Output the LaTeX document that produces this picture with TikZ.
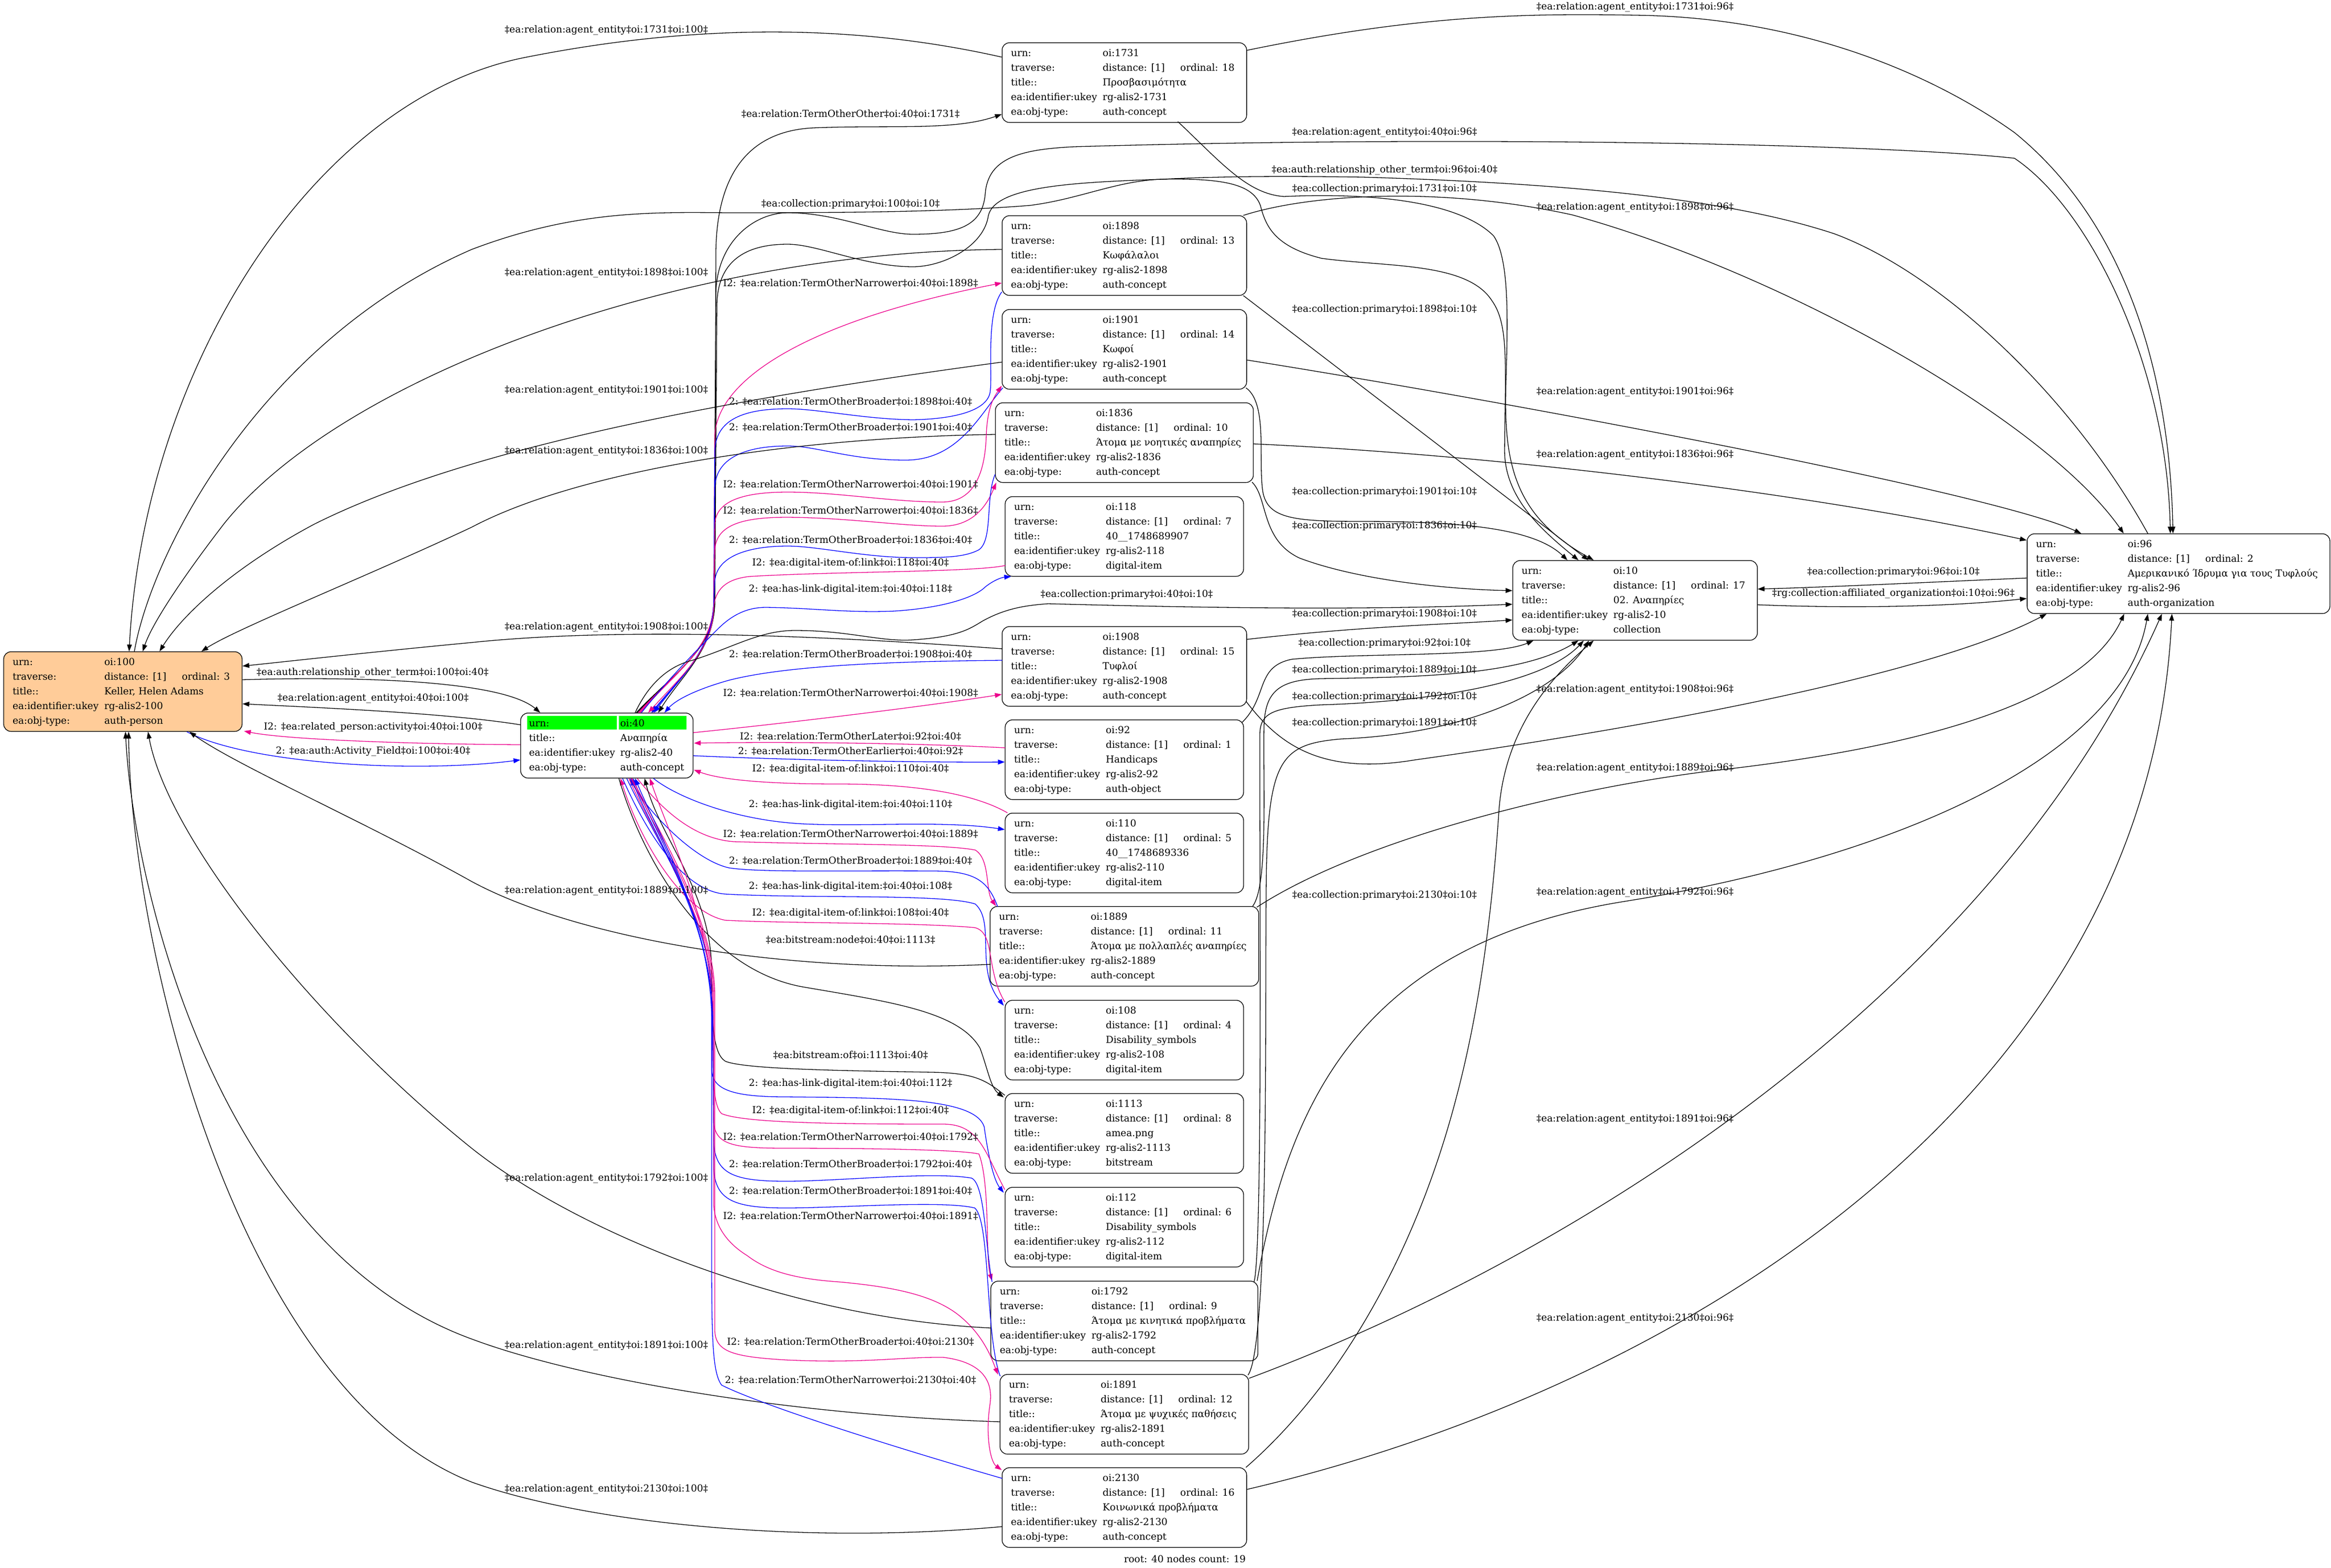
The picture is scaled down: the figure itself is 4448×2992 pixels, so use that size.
\documentclass[tikz,border=0pt]{standalone}
\usepackage{fontspec}
\setmainfont{DejaVu Serif}
\usetikzlibrary{arrows.meta}
\definecolor{peach}{HTML}{FFCC99}
\definecolor{cellgreen}{HTML}{00FF00}
\newcommand{\lblfont}{\fontsize{9.2pt}{14pt}\selectfont}
\newcommand{\spanv}[1]{\multicolumn{2}{@{}l@{\hspace{11.5pt}}}{#1}}
\newcommand{\recbody}[5]{%
\begin{tabular}{@{\hspace{8.5pt}}p{87.5pt}@{}p{74pt}@{}l@{\hspace{11.5pt}}}
urn: & \spanv{#1}\\
traverse: & distance: [1] & ordinal: #2\hspace{3pt}\\
title:: & \spanv{#3}\\
ea:identifier:ukey & \spanv{#4}\\
ea:obj-type: & \spanv{#5}
\end{tabular}}
\tikzset{
  rec/.style={draw, line width=0.65pt, rounded corners=7pt, inner xsep=0pt, inner ysep=3pt, anchor=north, font=\lblfont},
  lab/.style={font=\lblfont, inner sep=0pt},
  edge/.style={line width=0.65pt, -{Triangle[length=6.5pt,width=4.6pt]}},
  eb/.style={edge, draw=black},
  eu/.style={edge, draw=blue},
  em/.style={edge, draw=magenta}
}
\begin{document}
\begin{tikzpicture}[x=0.5pt,y=-0.5pt,line join=round]
\useasboundingbox (0,0) rectangle (4448,2992);
% ---------- nodes ----------
\node[rec, fill=peach] (n100) at (234.5,1243) {\recbody{oi:100}{3}{Keller, Helen Adams}{rg-alis2-100}{auth-person}};
\fill[cellgreen] (1006,1366) rectangle (1177,1392);
\fill[cellgreen] (1181,1366) rectangle (1310,1392);
\node[rec] (n40) at (1158,1360) {\begin{tabular}{@{\hspace{8pt}}p{87pt}@{}l@{\hspace{8.5pt}}}
urn: & oi:40\\
title:: & Αναπηρία\\
ea:identifier:ukey & rg-alis2-40\\
ea:obj-type: & auth-concept
\end{tabular}};
\node[rec] (n1731) at (2145.5,81) {\recbody{oi:1731}{18}{Προσβασιμότητα}{rg-alis2-1731}{auth-concept}};
\node[rec] (n1898) at (2145.5,411) {\recbody{oi:1898}{13}{Κωφάλαλοι}{rg-alis2-1898}{auth-concept}};
\node[rec] (n1901) at (2145.5,590) {\recbody{oi:1901}{14}{Κωφοί}{rg-alis2-1901}{auth-concept}};
\node[rec] (n1836) at (2145.5,768) {\recbody{oi:1836}{10}{Άτομα με νοητικές αναπηρίες}{rg-alis2-1836}{auth-concept}};
\node[rec] (n118) at (2145.5,947) {\recbody{oi:118}{7}{40\_\_1748689907}{rg-alis2-118}{digital-item}};
\node[rec] (n1908) at (2145.5,1195) {\recbody{oi:1908}{15}{Τυφλοί}{rg-alis2-1908}{auth-concept}};
\node[rec] (n92) at (2145.5,1373) {\recbody{oi:92}{1}{Handicaps}{rg-alis2-92}{auth-object}};
\node[rec] (n110) at (2145.5,1551) {\recbody{oi:110}{5}{40\_\_1748689336}{rg-alis2-110}{digital-item}};
\node[rec] (n1889) at (2145.5,1729) {\recbody{oi:1889}{11}{Άτομα με πολλαπλές αναπηρίες}{rg-alis2-1889}{auth-concept}};
\node[rec] (n108) at (2145.5,1908) {\recbody{oi:108}{4}{Disability\_symbols}{rg-alis2-108}{digital-item}};
\node[rec] (n1113) at (2145.5,2086) {\recbody{oi:1113}{8}{amea.png}{rg-alis2-1113}{bitstream}};
\node[rec] (n112) at (2145.5,2265) {\recbody{oi:112}{6}{Disability\_symbols}{rg-alis2-112}{digital-item}};
\node[rec] (n1792) at (2145.5,2444) {\recbody{oi:1792}{9}{Άτομα με κινητικά προβλήματα}{rg-alis2-1792}{auth-concept}};
\node[rec] (n1891) at (2145.5,2622) {\recbody{oi:1891}{12}{Άτομα με ψυχικές παθήσεις}{rg-alis2-1891}{auth-concept}};
\node[rec] (n2130) at (2145.5,2800) {\recbody{oi:2130}{16}{Κοινωνικά προβλήματα}{rg-alis2-2130}{auth-concept}};
\node[rec] (n10) at (3120,1069) {\recbody{oi:10}{17}{02. Αναπηρίες}{rg-alis2-10}{collection}};
\node[rec] (n96) at (4157,1018) {\recbody{oi:96}{2}{Αμερικανικό Ίδρυμα για τους Τυφλούς}{rg-alis2-96}{auth-organization}};
\node[lab] (foot) at (2261,2975) {root: 40 nodes count: 19};
% ---------- edges ----------
\draw[eb] ([shift={(0,28)}]n1731.north west) .. controls (1650,50) and (1350,40) .. (1000,110) .. controls (600,190) and (275,700) .. ([shift={(240,0)}]n100.north west);
\draw[eb] ([shift={(0,15)}]n1731.north east) .. controls (2700,30) and (2900,25) .. (3120,29) .. controls (3450,33) and (3700,150) .. (3844,253) .. controls (4050,420) and (4140,700) .. ([shift={(279,0)}]n96.north west);
\draw[eb] ([shift={(221,0)}]n40.north west) .. controls (1290,1280) and (1362,1240) .. (1364,1150) -- (1366,480) .. controls (1368,330) and (1430,250) .. (1552,244) .. controls (1700,238) and (1820,250) .. ([shift={(0,137)}]n1731.north west);
\draw[eb] ([shift={(336,151)}]n1731.north west) .. controls (2330,310) and (2380,370) .. (2450,375) .. controls (2600,368) and (2780,380) .. (2850,450) .. controls (2885,500) and (2875,650) .. (2873,760) .. controls (2872,900) and (2900,990) .. ([shift={(155,0)}]n10.north west);
\draw[eb] ([shift={(250,0)}]n100.north west) .. controls (290,1050) and (500,650) .. (900,476) .. controls (1100,400) and (1250,405) .. (1391,406) .. controls (1600,406) and (1800,405) .. (1965,392) .. controls (2060,380) and (2130,345) .. (2217,342) .. controls (2330,340) and (2390,350) .. (2405,392) .. controls (2415,430) and (2430,470) .. (2522,493) .. controls (2650,510) and (2800,500) .. (2847,574) .. controls (2880,620) and (2872,700) .. (2871,861) .. controls (2872,950) and (2940,1010) .. ([shift={(126,0)}]n10.north west);
\draw[eb] ([shift={(223,0)}]n40.north west) .. controls (1290,1280) and (1360,1240) .. (1362,1150) -- (1366,560) .. controls (1368,460) and (1440,406) .. (1503,406) .. controls (1600,406) and (1680,447) .. (1742,447) .. controls (1830,447) and (1875,430) .. (1880,370) .. controls (1885,300) and (1950,285) .. (2050,280) .. controls (2800,258) and (3600,275) .. (3844,302) .. controls (3990,400) and (4135,700) .. ([shift={(274,0)}]n96.north west);
\draw[eb] ([shift={(231,0)}]n96.north west) .. controls (3950,750) and (3700,520) .. (3500,446) .. controls (3300,380) and (3000,350) .. (2600,338) .. controls (2400,335) and (2300,338) .. (2217,342) .. controls (2050,348) and (1900,355) .. (1886,411) .. controls (1878,470) and (1800,509) .. (1742,509) .. controls (1650,509) and (1560,466) .. (1503,466) .. controls (1420,466) and (1370,500) .. (1368,580) -- (1364,1150) .. controls (1362,1240) and (1300,1290) .. ([shift={(263,0)}]n40.north west);
\draw[eb] ([shift={(0,65)}]n1898.north west) .. controls (1300,480) and (650,720) .. (427,1000) .. controls (350,1100) and (290,1190) .. ([shift={(266,0)}]n100.north west);
\draw[eb] ([shift={(-7,0)}]n1898.north east) .. controls (2500,370) and (2750,355) .. (3000,410) .. controls (3400,520) and (3900,800) .. ([shift={(185,0)}]n96.north west);
\draw[em] ([shift={(225,0)}]n40.north west) .. controls (1290,1280) and (1360,1240) .. (1362,1150) -- (1364,830) .. controls (1370,720) and (1550,610) .. ([shift={(0,129)}]n1898.north west);
\draw[eb] ([shift={(-7,153)}]n1898.north east) .. controls (2550,700) and (2850,930) .. ([shift={(145,0)}]n10.north west);
\draw[eb] ([shift={(0,101)}]n1901.north west) .. controls (1400,760) and (900,850) .. (600,1000) .. controls (450,1080) and (350,1170) .. ([shift={(298,0)}]n100.north west);
\draw[eu] ([shift={(0,146)}]n1898.north west) .. controls (1880,600) and (1895,720) .. (1889,750) .. controls (1880,790) and (1800,800) .. (1742,801) .. controls (1650,800) and (1560,780) .. (1503,780) .. controls (1420,780) and (1366,800) .. (1364,860) -- (1362,1150) .. controls (1360,1240) and (1300,1290) .. ([shift={(255,0)}]n40.north west);
\draw[eu] ([shift={(2,150)}]n1901.north west) .. controls (1870,790) and (1830,878) .. (1728,878) .. controls (1620,878) and (1560,851) .. (1503,851) .. controls (1420,851) and (1366,875) .. (1364,930) -- (1362,1150) .. controls (1360,1240) and (1300,1290) .. ([shift={(252,0)}]n40.north west);
\draw[eb] ([shift={(0,97)}]n1901.north east) .. controls (2900,770) and (3800,940) .. ([shift={(104,0)}]n96.north west);
\draw[eb] ([shift={(0,61)}]n1836.north west) .. controls (1500,835) and (1100,900) .. (900,1006) .. controls (700,1100) and (450,1200) .. ([shift={(378,0)}]n100.north west);
\draw[eb] ([shift={(0,79)}]n1836.north east) .. controls (2900,870) and (3500,950) .. ([shift={(0,13)}]n96.north west);
\draw[em] ([shift={(227,0)}]n40.north west) .. controls (1290,1280) and (1360,1240) .. (1362,1150) -- (1364,1000) .. controls (1366,955) and (1420,939) .. (1503,939) .. controls (1600,939) and (1700,958) .. (1798,958) .. controls (1860,958) and (1880,900) .. (1882,830) .. controls (1884,780) and (1895,760) .. ([shift={(0,146)}]n1901.north west);
\draw[eb] ([shift={(-2,150)}]n1901.north east) .. controls (2420,770) and (2400,880) .. (2410,940) .. controls (2420,990) and (2470,995) .. (2600,995) .. controls (2800,995) and (2930,1010) .. ([shift={(105,0)}]n10.north west);
\draw[em] ([shift={(229,0)}]n40.north west) .. controls (1290,1280) and (1360,1240) .. (1362,1150) -- (1364,1050) .. controls (1366,1000) and (1420,987) .. (1503,987) .. controls (1620,988) and (1720,1004) .. (1798,1004) .. controls (1860,1004) and (1885,960) .. ([shift={(2,153)}]n1836.north west);
\draw[eb] ([shift={(-3,152)}]n1836.north east) .. controls (2420,950) and (2405,1030) .. (2480,1065) .. controls (2600,1110) and (2780,1125) .. ([shift={(0,58)}]n10.north west);
\draw[eu] ([shift={(0,137)}]n1836.north west) .. controls (1880,950) and (1895,1030) .. (1868,1049) .. controls (1840,1064) and (1800,1064) .. (1742,1064) .. controls (1650,1064) and (1560,1042) .. (1503,1042) .. controls (1420,1042) and (1366,1065) .. (1364,1110) -- (1362,1150) .. controls (1360,1240) and (1300,1290) .. ([shift={(250,0)}]n40.north west);
\draw[em] ([shift={(1,132)}]n118.north west) .. controls (1860,1092) and (1600,1090) .. (1430,1100) .. controls (1385,1105) and (1364,1125) .. (1362,1160) .. controls (1360,1240) and (1300,1290) .. ([shift={(244,0)}]n40.north west);
\draw[eu] ([shift={(231,0)}]n40.north west) .. controls (1280,1290) and (1340,1230) .. (1370,1200) .. controls (1400,1170) and (1430,1159) .. (1461,1159) .. controls (1550,1160) and (1620,1170) .. (1707,1166) .. controls (1800,1160) and (1860,1140) .. (1880,1120) .. controls (1895,1108) and (1910,1102) .. ([shift={(12,153)}]n118.north west);
\draw[eb] ([shift={(0,85)}]n96.north west) .. controls (3700,1110) and (3500,1120) .. ([shift={(0,55)}]n10.north east);
\draw[eb] ([shift={(0,85)}]n10.north east) .. controls (3500,1160) and (3700,1160) .. ([shift={(0,124)}]n96.north west);
\draw[eb] ([shift={(219,0)}]n40.north west) .. controls (1240,1300) and (1280,1270) .. (1321,1260) .. controls (1400,1235) and (1450,1203) .. (1517,1203) .. controls (1620,1203) and (1680,1225) .. (1742,1221) .. controls (1830,1215) and (1850,1200) .. (1875,1185) .. controls (1920,1160) and (1960,1155) .. (2000,1152) .. controls (2300,1160) and (2600,1165) .. ([shift={(0,84)}]n10.north west);
\draw[eb] ([shift={(1,43)}]n1908.north west) .. controls (1600,1215) and (1200,1195) .. (900,1226) .. controls (700,1245) and (550,1262) .. ([shift={(0,28)}]n100.north east);
\draw[eb] ([shift={(0,25)}]n1908.north east) .. controls (2600,1195) and (2750,1192) .. ([shift={(0,114)}]n10.north west);
\draw[eu] ([shift={(1,65)}]n1908.north west) .. controls (1700,1262) and (1500,1270) .. (1391,1298) .. controls (1330,1315) and (1290,1335) .. ([shift={(275,0)}]n40.north west);
\draw[eb] ([shift={(-4,6)}]n92.north east) .. controls (2420,1330) and (2395,1272) .. (2465,1258) .. controls (2600,1245) and (2850,1255) .. ([shift={(40,0)}]n10.south west);
\draw[eb] ([shift={(0,54)}]n100.north east) .. controls (700,1290) and (960,1300) .. ([shift={(38,0)}]n40.north west);
\draw[em] ([shift={(0,38)}]n40.north east) .. controls (1500,1380) and (1750,1350) .. ([shift={(0,130)}]n1908.north west);
\draw[eb] ([shift={(-12,0)}]n1889.north east) .. controls (2420,1690) and (2410,1500) .. (2412,1385) .. controls (2414,1320) and (2440,1297) .. (2520,1295) .. controls (2700,1292) and (2900,1290) .. ([shift={(126,0)}]n10.south west);
\draw[eb] ([shift={(-8,2)}]n1792.north east) .. controls (2410,2390) and (2403,1600) .. (2404,1400) .. controls (2405,1360) and (2430,1350) .. (2520,1345) .. controls (2750,1338) and (2950,1300) .. ([shift={(136,0)}]n10.south west);
\draw[eb] ([shift={(0,23)}]n40.north west) .. controls (850,1360) and (600,1350) .. ([shift={(0,100)}]n100.north east);
\draw[eb] ([shift={(-2,2)}]n1891.north east) .. controls (2420,2570) and (2414,2000) .. (2416,1700) .. controls (2418,1450) and (2440,1420) .. (2560,1410) .. controls (2800,1400) and (2970,1320) .. ([shift={(146,0)}]n10.south west);
\draw[em] ([shift={(1,54)}]n92.north west) .. controls (1750,1418) and (1500,1415) .. ([shift={(1,58)}]n40.north east);
\draw[em] ([shift={(0,61)}]n40.north west) .. controls (800,1420) and (550,1412) .. ([shift={(3,152)}]n100.north east);
\draw[eu] ([shift={(0,82)}]n40.north east) .. controls (1500,1450) and (1750,1455) .. ([shift={(0,81)}]n92.north west);
\draw[eu] ([shift={(350,0)}]n100.south west) .. controls (480,1460) and (800,1475) .. ([shift={(0,90)}]n40.north west);
\draw[eb] ([shift={(-2,143)}]n1908.north east) .. controls (2440,1420) and (2520,1480) .. (2700,1450) .. controls (3200,1380) and (3700,1280) .. ([shift={(38,0)}]n96.south west);
\draw[em] ([shift={(5,0)}]n110.north west) .. controls (1860,1515) and (1750,1496) .. (1601,1496) .. controls (1480,1496) and (1380,1490) .. ([shift={(1,109)}]n40.north east);
\draw[eb] ([shift={(-4,2)}]n1889.north east) .. controls (2600,1600) and (3000,1500) .. (3300,1467) .. controls (3700,1420) and (3980,1330) .. ([shift={(186,0)}]n96.south west);
\draw[eu] ([shift={(254,0)}]n40.south west) .. controls (1290,1520) and (1400,1565) .. (1531,1572) .. controls (1650,1578) and (1800,1565) .. ([shift={(0,32)}]n110.north west);
\draw[em] ([shift={(223,0)}]n40.south west) .. controls (1260,1540) and (1320,1600) .. (1400,1606) .. controls (1600,1612) and (1800,1610) .. (1861,1622) .. controls (1890,1640) and (1880,1700) .. ([shift={(12,0)}]n1889.north west);
\draw[eb] ([shift={(-2,0)}]n2130.north east) .. controls (2550,2650) and (2700,2400) .. (2780,2090) .. controls (2830,1900) and (2850,1700) .. (2860,1550) .. controls (2870,1400) and (2950,1300) .. ([shift={(155,0)}]n10.south west);
\draw[eu] ([shift={(15,1)}]n1889.north west) .. controls (1885,1680) and (1860,1662) .. (1780,1662) .. controls (1600,1661) and (1450,1665) .. (1391,1656) .. controls (1320,1640) and (1230,1540) .. ([shift={(209,0)}]n40.south west);
\draw[eb] ([shift={(-2,0)}]n1792.north east) .. controls (2460,2100) and (2600,1800) .. (3100,1720) .. controls (3600,1640) and (4050,1450) .. ([shift={(231,0)}]n96.south west);
\draw[eu] ([shift={(195,0)}]n40.south west) .. controls (1230,1580) and (1300,1700) .. (1384,1706) .. controls (1550,1715) and (1800,1705) .. (1861,1725) .. controls (1900,1760) and (1860,1850) .. ([shift={(-2,11)}]n108.north west);
\draw[eb] ([shift={(2,111)}]n1889.north west) .. controls (1500,1860) and (1100,1790) .. (900,1682) .. controls (700,1570) and (450,1460) .. ([shift={(355,0)}]n100.south west);
\draw[em] ([shift={(0,4)}]n108.north west) .. controls (1880,1850) and (1900,1780) .. (1860,1770) .. controls (1750,1760) and (1500,1762) .. (1384,1756) .. controls (1300,1740) and (1220,1600) .. ([shift={(191,0)}]n40.south west);
\draw[eb] ([shift={(188,0)}]n40.south west) .. controls (1230,1650) and (1350,1850) .. (1531,1883) .. controls (1700,1912) and (1830,1930) .. (1870,2000) .. controls (1885,2040) and (1890,2075) .. ([shift={(-2,8)}]n1113.north west);
\draw[eb] ([shift={(0,4)}]n1113.north west) .. controls (1880,2060) and (1860,2048) .. (1780,2046) .. controls (1600,2043) and (1420,2040) .. (1384,2025) .. controls (1360,2010) and (1358,1950) .. (1358,1850) .. controls (1356,1700) and (1260,1600) .. ([shift={(237,0)}]n40.south west);
\draw[eu] ([shift={(203,0)}]n40.south west) .. controls (1250,1600) and (1358,1760) .. (1358,1900) -- (1358,2040) .. controls (1358,2080) and (1400,2093) .. (1500,2093) .. controls (1700,2095) and (1860,2095) .. (1878,2150) .. controls (1885,2200) and (1895,2250) .. ([shift={(-2,11)}]n112.north west);
\draw[em] ([shift={(0,5)}]n112.north west) .. controls (1880,2200) and (1870,2145) .. (1800,2145) .. controls (1600,2145) and (1420,2143) .. (1377,2125) .. controls (1360,2110) and (1360,2050) .. (1360,1950) .. controls (1360,1760) and (1280,1600) .. ([shift={(247,0)}]n40.south west);
\draw[em] ([shift={(207,0)}]n40.south west) .. controls (1250,1600) and (1360,1760) .. (1360,1900) -- (1362,2140) .. controls (1364,2185) and (1400,2191) .. (1500,2191) .. controls (1700,2191) and (1840,2195) .. (1868,2202) .. controls (1890,2260) and (1880,2400) .. ([shift={(3,0)}]n1792.north west);
\draw[eu] ([shift={(3,2)}]n1792.north west) .. controls (1880,2380) and (1880,2260) .. (1854,2248) .. controls (1780,2235) and (1600,2254) .. (1500,2254) .. controls (1400,2254) and (1365,2240) .. (1362,2180) -- (1360,1950) .. controls (1360,1760) and (1250,1600) .. ([shift={(212,0)}]n40.south west);
\draw[eu] ([shift={(1,4)}]n1891.north west) .. controls (1880,2550) and (1890,2330) .. (1860,2305) .. controls (1800,2290) and (1600,2305) .. (1500,2305) .. controls (1400,2305) and (1365,2290) .. (1362,2230) -- (1360,1950) .. controls (1360,1760) and (1255,1600) .. ([shift={(215,0)}]n40.south west);
\draw[em] ([shift={(211,0)}]n40.south west) .. controls (1260,1600) and (1362,1760) .. (1362,1900) -- (1362,2300) .. controls (1365,2350) and (1400,2380) .. (1426,2396) .. controls (1470,2430) and (1530,2441) .. (1600,2446) .. controls (1700,2455) and (1780,2470) .. (1830,2510) .. controls (1880,2550) and (1895,2600) .. ([shift={(-3,1)}]n1891.north west);
\draw[eb] ([shift={(0,90)}]n1792.north west) .. controls (1500,2515) and (1100,2350) .. (900,2191) .. controls (600,1950) and (320,1600) .. ([shift={(276,0)}]n100.south west);
\draw[eb] ([shift={(0,8)}]n1891.north east) .. controls (3000,2400) and (3800,1900) .. ([shift={(258,0)}]n96.south west);
\draw[eb] ([shift={(1,91)}]n1891.north west) .. controls (1500,2700) and (1100,2630) .. (900,2555) .. controls (420,2380) and (255,1700) .. ([shift={(233,0)}]n100.south west);
\draw[em] ([shift={(213,0)}]n40.south west) .. controls (1265,1600) and (1364,1760) .. (1364,1900) -- (1364,2540) .. controls (1366,2580) and (1400,2589) .. (1500,2595) .. controls (1650,2602) and (1720,2589) .. (1800,2590) .. controls (1880,2600) and (1895,2640) .. (1889,2680) .. controls (1880,2740) and (1890,2790) .. ([shift={(0,5)}]n2130.north west);
\draw[eu] ([shift={(1,21)}]n2130.north west) .. controls (1700,2760) and (1450,2680) .. (1377,2643) .. controls (1360,2620) and (1358,2560) .. (1358,2400) -- (1358,1950) .. controls (1358,1760) and (1260,1600) .. ([shift={(219,0)}]n40.south west);
\draw[eb] ([shift={(1,113)}]n2130.north west) .. controls (1500,2950) and (1100,2900) .. (900,2828) .. controls (450,2650) and (250,1800) .. ([shift={(239,0)}]n100.south west);
\draw[eb] ([shift={(0,42)}]n2130.north east) .. controls (3200,2650) and (4100,2100) .. ([shift={(277,0)}]n96.south west);
% ---------- labels ----------
\node[lab] (l1) at (1157,58) {‡ea:relation:agent\_entity‡oi:1731‡oi:100‡};
\node[lab] (l2) at (3120,14) {‡ea:relation:agent\_entity‡oi:1731‡oi:96‡};
\node[lab] (l3) at (1623,217) {‡ea:relation:TermOtherOther‡oi:40‡oi:1731‡};
\node[lab] (l4) at (2642,361) {‡ea:collection:primary‡oi:1731‡oi:10‡};
\node[lab] (l5) at (2642,253) {‡ea:relation:agent\_entity‡oi:40‡oi:96‡};
\node[lab] (l6) at (2642,325) {‡ea:auth:relationship\_other\_term‡oi:96‡oi:40‡};
\node[lab] (l7) at (1623,390) {‡ea:collection:primary‡oi:100‡oi:10‡};
\node[lab] (l8) at (1157,521) {‡ea:relation:agent\_entity‡oi:1898‡oi:100‡};
\node[lab] (l9) at (3120,396) {‡ea:relation:agent\_entity‡oi:1898‡oi:96‡};
\node[lab] (l10) at (1623,540) {I2: ‡ea:relation:TermOtherNarrower‡oi:40‡oi:1898‡};
\node[lab] (l11) at (2642,591) {‡ea:collection:primary‡oi:1898‡oi:10‡};
\node[lab] (l12) at (1157,745) {‡ea:relation:agent\_entity‡oi:1901‡oi:100‡};
\node[lab] (l13) at (1623,766) {2: ‡ea:relation:TermOtherBroader‡oi:1898‡oi:40‡};
\node[lab] (l14) at (1623,815) {2: ‡ea:relation:TermOtherBroader‡oi:1901‡oi:40‡};
\node[lab] (l15) at (3120,748) {‡ea:relation:agent\_entity‡oi:1901‡oi:96‡};
\node[lab] (l16) at (1157,861) {‡ea:relation:agent\_entity‡oi:1836‡oi:100‡};
\node[lab] (l17) at (3120,868) {‡ea:relation:agent\_entity‡oi:1836‡oi:96‡};
\node[lab] (l18) at (1623,924) {I2: ‡ea:relation:TermOtherNarrower‡oi:40‡oi:1901‡};
\node[lab] (l19) at (2642,939) {‡ea:collection:primary‡oi:1901‡oi:10‡};
\node[lab] (l20) at (1623,974) {I2: ‡ea:relation:TermOtherNarrower‡oi:40‡oi:1836‡};
\node[lab] (l21) at (2642,1004) {‡ea:collection:primary‡oi:1836‡oi:10‡};
\node[lab] (l22) at (1623,1030) {2: ‡ea:relation:TermOtherBroader‡oi:1836‡oi:40‡};
\node[lab] (l23) at (1623,1075) {I2: ‡ea:digital-item-of:link‡oi:118‡oi:40‡};
\node[lab] (l24) at (1623,1125) {2: ‡ea:has-link-digital-item:‡oi:40‡oi:118‡};
\node[lab] (l25) at (3613,1092) {‡ea:collection:primary‡oi:96‡oi:10‡};
\node[lab] (l26) at (3613,1133) {‡rg:collection:affiliated\_organization‡oi:10‡oi:96‡};
\node[lab] (l27) at (2150,1135) {‡ea:collection:primary‡oi:40‡oi:10‡};
\node[lab] (l28) at (1157,1197) {‡ea:relation:agent\_entity‡oi:1908‡oi:100‡};
\node[lab] (l29) at (2642,1172) {‡ea:collection:primary‡oi:1908‡oi:10‡};
\node[lab] (l30) at (1623,1248) {2: ‡ea:relation:TermOtherBroader‡oi:1908‡oi:40‡};
\node[lab] (l31) at (2642,1228) {‡ea:collection:primary‡oi:92‡oi:10‡};
\node[lab] (l32) at (711,1284) {‡ea:auth:relationship\_other\_term‡oi:100‡oi:40‡};
\node[lab] (l33) at (1623,1322) {I2: ‡ea:relation:TermOtherNarrower‡oi:40‡oi:1908‡};
\node[lab] (l34) at (2642,1279) {‡ea:collection:primary‡oi:1889‡oi:10‡};
\node[lab] (l35) at (2642,1330) {‡ea:collection:primary‡oi:1792‡oi:10‡};
\node[lab] (l36) at (712,1333) {‡ea:relation:agent\_entity‡oi:40‡oi:100‡};
\node[lab] (l37) at (2642,1380) {‡ea:collection:primary‡oi:1891‡oi:10‡};
\node[lab] (l38) at (1623,1405) {I2: ‡ea:relation:TermOtherLater‡oi:92‡oi:40‡};
\node[lab] (l39) at (712,1388) {I2: ‡ea:related\_person:activity‡oi:40‡oi:100‡};
\node[lab] (l40) at (1623,1433) {2: ‡ea:relation:TermOtherEarlier‡oi:40‡oi:92‡};
\node[lab] (l41) at (712,1434) {2: ‡ea:auth:Activity\_Field‡oi:100‡oi:40‡};
\node[lab] (l42) at (3120,1316) {‡ea:relation:agent\_entity‡oi:1908‡oi:96‡};
\node[lab] (l43) at (1623,1468) {I2: ‡ea:digital-item-of:link‡oi:110‡oi:40‡};
\node[lab] (l44) at (3120,1466) {‡ea:relation:agent\_entity‡oi:1889‡oi:96‡};
\node[lab] (l45) at (1623,1536) {2: ‡ea:has-link-digital-item:‡oi:40‡oi:110‡};
\node[lab] (l46) at (1623,1591) {I2: ‡ea:relation:TermOtherNarrower‡oi:40‡oi:1889‡};
\node[lab] (l47) at (2642,1709) {‡ea:collection:primary‡oi:2130‡oi:10‡};
\node[lab] (l48) at (1623,1642) {2: ‡ea:relation:TermOtherBroader‡oi:1889‡oi:40‡};
\node[lab] (l49) at (3120,1703) {‡ea:relation:agent\_entity‡oi:1792‡oi:96‡};
\node[lab] (l50) at (1623,1692) {2: ‡ea:has-link-digital-item:‡oi:40‡oi:108‡};
\node[lab] (l51) at (1157,1700) {‡ea:relation:agent\_entity‡oi:1889‡oi:100‡};
\node[lab] (l52) at (1623,1743) {I2: ‡ea:digital-item-of:link‡oi:108‡oi:40‡};
\node[lab] (l53) at (1623,1793) {‡ea:bitstream:node‡oi:40‡oi:1113‡};
\node[lab] (l54) at (1623,2013) {‡ea:bitstream:of‡oi:1113‡oi:40‡};
\node[lab] (l55) at (1623,2068) {2: ‡ea:has-link-digital-item:‡oi:40‡oi:112‡};
\node[lab] (l56) at (1623,2120) {I2: ‡ea:digital-item-of:link‡oi:112‡oi:40‡};
\node[lab] (l57) at (1623,2169) {I2: ‡ea:relation:TermOtherNarrower‡oi:40‡oi:1792‡};
\node[lab] (l58) at (1623,2221) {2: ‡ea:relation:TermOtherBroader‡oi:1792‡oi:40‡};
\node[lab] (l59) at (1623,2272) {2: ‡ea:relation:TermOtherBroader‡oi:1891‡oi:40‡};
\node[lab] (l60) at (1623,2320) {I2: ‡ea:relation:TermOtherNarrower‡oi:40‡oi:1891‡};
\node[lab] (l61) at (1157,2249) {‡ea:relation:agent\_entity‡oi:1792‡oi:100‡};
\node[lab] (l62) at (3120,2136) {‡ea:relation:agent\_entity‡oi:1891‡oi:96‡};
\node[lab] (l63) at (1157,2568) {‡ea:relation:agent\_entity‡oi:1891‡oi:100‡};
\node[lab] (l64) at (1623,2560) {I2: ‡ea:relation:TermOtherBroader‡oi:40‡oi:2130‡};
\node[lab] (l65) at (1623,2633) {2: ‡ea:relation:TermOtherNarrower‡oi:2130‡oi:40‡};
\node[lab] (l66) at (1157,2842) {‡ea:relation:agent\_entity‡oi:2130‡oi:100‡};
\node[lab] (l67) at (3120,2516) {‡ea:relation:agent\_entity‡oi:2130‡oi:96‡};
\end{tikzpicture}
\end{document}
